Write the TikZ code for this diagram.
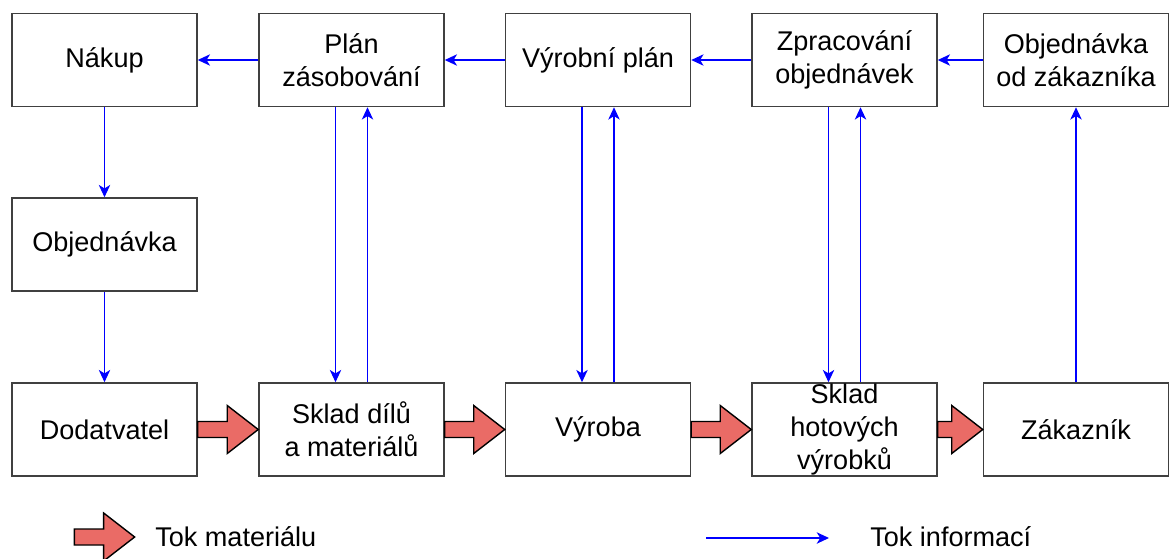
\documentclass[tikz,border=0pt]{standalone}
\usepackage{fontspec}
\setmainfont{Liberation Sans}
\usetikzlibrary{calc,arrows.meta}
\definecolor{matred}{RGB}{234,107,102}
\definecolor{infoblue}{RGB}{0,0,255}
\tikzset{
  box/.style={
    draw=black!75,
    line width=0.9pt,
    fill=white,
    minimum width=3.7cm,
    minimum height=1.86cm,
    inner sep=0pt,
    align=center,
    font=\fontsize{15.4}{18.6}\selectfont
  },
  info-arrow/.style={
    draw=infoblue,
    line width=0.7pt,
    -{Stealth[length=7pt,width=6.5pt,inset=2pt]}
  },
  mat-arrow/.style={draw=black, line width=0.8pt, fill=matred, line join=miter},
  legend-text/.style={anchor=west, inner sep=0pt, font=\fontsize{15.4}{18.6}\selectfont},
  legend-end/.style={inner sep=0pt, minimum size=0pt}
}
% fat material arrow from the east side of #1 to the west side of #2
\newcommand{\matflow}[2]{
  \draw[mat-arrow] ($(#1.east)+(0,-8)$) -- ($(#2.west)+(-31,-8)$)
    -- ($(#2.west)+(-31,-24)$) -- (#2.west) -- ($(#2.west)+(-31,24)$)
    -- ($(#2.west)+(-31,8)$) -- ($(#1.east)+(0,8)$) -- cycle;
}

\begin{document}
\begin{tikzpicture}[x=0.02cm, y=-0.02cm]
  \useasboundingbox (0,0) rectangle (1169,558);
  % top row: information
  \node[box] (nakup) at (104.5,60) {Nákup};
  \node[box] (planzas) at (351.5,60) {Plán\\zásobování};
  \node[box] (vyrplan) at (598,60) {Výrobní plán};
  \node[box] (zprac) at (844.5,60) {Zpracování\\objednávek};
  \node[box] (objzak) at (1076,60) {Objednávka\\od zákazníka};
  \node[box] (objed) at (104.5,244.5) {Objednávka};
  % bottom row: material
  \node[box] (dodav) at (104.5,429.5) {Dodatvatel};
  \node[box] (sklmat) at (351.5,429.5) {Sklad dílů\\a materiálů};
  \node[box] (vyroba) at (598,429.5) {Výroba};
  \node[box] (sklhot) at (844.5,429.5) {Sklad\\hotových\\výrobků};
  \node[box] (zakaz) at (1076,429.5) {Zákazník};

  % information flow
  \draw[info-arrow] (planzas) -- (nakup);
  \draw[info-arrow] (vyrplan) -- (planzas);
  \draw[info-arrow] (zprac) -- (vyrplan);
  \draw[info-arrow] (objzak) -- (zprac);
  \draw[info-arrow] (nakup) -- (objed);
  \draw[info-arrow] (objed) -- (dodav);
  \draw[info-arrow] (zakaz) -- (objzak);
  \foreach \ubox/\lbox in {planzas/sklmat, vyrplan/vyroba, zprac/sklhot} {
    \draw[info-arrow] ($(\ubox.south)+(-16,0)$) -- ($(\lbox.north)+(-16,0)$);
    \draw[info-arrow] ($(\lbox.north)+(16,0)$) -- ($(\ubox.south)+(16,0)$);
  }

  % material flow
  \foreach \a/\b in {dodav/sklmat, sklmat/vyroba, vyroba/sklhot, sklhot/zakaz} {
    \matflow{\a}{\b}
  }

  % legend
  \node[legend-end] (matA) at (74,537) {};
  \node[legend-end] (matB) at (135,537) {};
  \matflow{matA}{matB}
  \node[legend-text] (matlbl) at (155,537) {Tok materiálu};
  \coordinate (infA) at (706,538);
  \coordinate (infB) at (829,538);
  \draw[info-arrow] (infA) -- (infB);
  \node[legend-text] (inflbl) at (870,537) {Tok informací};
\end{tikzpicture}
\end{document}
